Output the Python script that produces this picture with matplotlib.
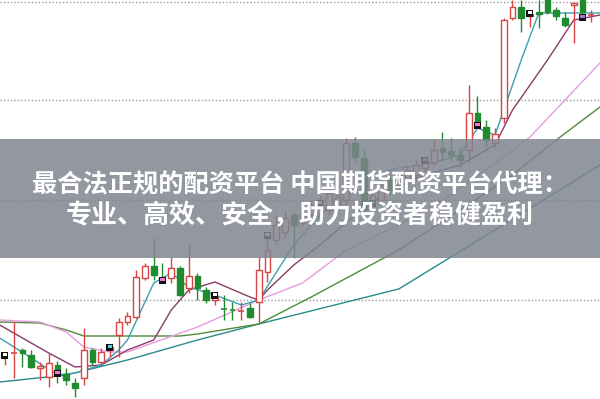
import matplotlib
matplotlib.use("Agg")
import matplotlib.pyplot as plt
from matplotlib.patches import Rectangle

# ---- data (values = price units) ----
idx = list(range(68))
# open, high, low, close  (value scale: 399 - pixel row)
opens  = [42, 46, 49, 44, 31, 22, 34, 25, 16, 21, 49, 37, 49, 64, 77, 82, 121, 133, 120, 121, 131, 111, 123, 109, 99, 91, 90, 88, 91, 97, 127,
          159, 167, 184, 176, 184, 187, 189, 191, 199, 256, 241, 194, 199, 219, 214, 219, 224, 231, 237, 251, 248, 244, 249, 286, 272, 256, 281, 381, 392, 383, 387, 399, 389, 381, 394, 399, 384]
closes = [43, 47, 46, 32, 33, 36, 29, 19, 11, 49, 37, 47, 52, 77, 83, 122, 133, 124, 118, 131, 104, 123, 111, 99, 102, 90, 89, 89, 82, 129, 149,
          174, 181, 174, 186, 194, 199, 206, 202, 256, 242, 189, 204, 214, 209, 224, 229, 234, 239, 249, 247, 244, 239, 286, 277, 259, 265, 379, 392, 381, 385, 385, 387, 383, 374, 396, 387, 384]
highs  = [46, 77, 51, 49, 37, 46, 38, 31, 21, 71, 51, 51, 55, 81, 87, 129, 136, 161, 136, 142, 133, 154, 126, 112, 106, 104, 97, 97, 96, 142, 167,
          184, 189, 187, 194, 199, 204, 212, 208, 261, 262, 249, 208, 219, 224, 229, 234, 239, 242, 259, 267, 261, 251, 314, 303, 279, 271, 381, 399, 399, 389, 399, 399, 392, 387, 397, 399, 389]
lows   = [34, 21, 32, 31, 19, 12, 16, 14, 2, 14, 34, 34, 42, 42, 74, 81, 119, 119, 116, 116, 103, 106, 99, 96, 94, 79, 79, 79, 81, 77, 117,
          154, 161, 141, 173, 179, 182, 184, 186, 194, 237, 184, 189, 194, 204, 209, 214, 219, 226, 234, 239, 239, 232, 236, 272, 252, 251, 276, 379, 367, 372, 371, 385, 379, 372, 356, 381, 377]
marker_idx   = [0, 6, 12, 18, 24, 30, 36, 42, 48, 54, 60, 66]
marker_val   = [44, 26, 52, 119, 104, 164, 196, 196, 239, 274, 386, 382]
marker_inner = ["#ffffff", "#f07ad8", "#5fd3e6", "#f07ad8", "#ffffff", "#ffffff", "#ffffff", "#5fd3e6",
                "#5fd3e6", "#f07ad8", "#ffffff", "#b070d0"]

ma5_x  = [-0.6, 3, 6, 8, 11, 13, 14, 17, 19, 21, 24, 27, 29, 33, 36, 39, 42, 45, 48, 52, 54, 56, 59, 61, 68]
ma5_y  = [61, 41, 24, 26, 34, 49, 59, 116, 126, 112, 104, 94, 99, 154, 184, 209, 224, 231, 234, 244, 271, 264, 339, 386, 386]
ma10_x = [-0.6, 5, 8, 11, 14, 17, 19, 21, 24, 28, 29, 30, 33, 36, 40, 44, 48, 52, 56, 58, 62, 65, 68]
ma10_y = [74, 46, 32, 34, 49, 59, 89, 109, 117, 102, 99, 109, 134, 154, 184, 209, 224, 234, 254, 289, 339, 379, 384]
ma20_x = [-0.6, 4, 7, 9, 12, 14, 22, 29, 34, 39, 45, 50, 55, 60, 68]
ma20_y = [79, 77, 67, 52, 47, 47, 72, 99, 116, 149, 174, 199, 229, 262, 336]
ma30_x = [-0.6, 4, 7, 9, 20, 22, 29, 35, 45, 52, 58, 63, 68]
ma30_y = [77, 76, 69, 63, 63, 65, 75, 102, 149, 189, 224, 259, 292]
ma60_x = [-0.6, 7, 14, 22, 29, 45, 56, 68]
ma60_y = [17, 24, 39, 59, 75, 110, 169, 234]

title1 = "最合法正规的配资平台 中国期货配资平台代理："
title2 = "专业、高效、安全，助力投资者稳健盈利"

UP = "#d64541"
DOWN = "#1f8a2e"

fig = plt.figure(figsize=(6.0, 3.99), dpi=100)
ax = fig.add_axes([0, 0, 1, 1])
ax.set_xlim(-0.571, 68.0)
ax.set_ylim(0, 399)
ax.axis("off")

# dotted grid lines
for gv in [397, 299, 199, 99]:
    ax.axhline(gv, color="#9a9a9a", lw=1.0, ls=(0, (1, 1.5)), zorder=1)

# moving averages
ax.plot(ma60_x, ma60_y, color="#2a8a8a", lw=1.0, zorder=2)
ax.plot(ma30_x, ma30_y, color="#4f8a3a", lw=1.0, zorder=2)
ax.plot(ma20_x, ma20_y, color="#e79be0", lw=1.0, zorder=2)
ax.plot(ma10_x, ma10_y, color="#8a3a6a", lw=1.0, zorder=2)
ax.plot(ma5_x, ma5_y, color="#3aa0b0", lw=1.0, zorder=2)

# candles
bw = 0.68
for i, o, h, l, c in zip(idx, opens, highs, lows, closes):
    up = c >= o
    col = UP if up else DOWN
    lo, hi = min(o, c), max(o, c)
    ax.vlines(i, l, lo, color=col, lw=1.0, zorder=3)
    ax.vlines(i, hi, h, color=col, lw=1.0, zorder=3)
    if hi - lo < 1.5:
        ax.hlines((o + c) / 2, i - bw / 2, i + bw / 2, color=col, lw=1.2, zorder=4)
    else:
        ax.add_patch(Rectangle((i - bw / 2, lo), bw, hi - lo,
                               facecolor="white" if up else col,
                               edgecolor=col, lw=1.0, zorder=4))

# signal markers
for mi, mv, mc in zip(marker_idx, marker_val, marker_inner):
    ax.add_patch(Rectangle((mi - 0.4, mv - 3.5), 0.8, 7, facecolor="#111111",
                           edgecolor="none", zorder=5))
    ax.add_patch(Rectangle((mi - 0.25, mv - 1.0), 0.5, 3, facecolor=mc,
                           edgecolor="none", zorder=6))

# banner
ax.add_patch(Rectangle((-1, 141), 70, 119, facecolor="#7f858f", alpha=0.85,
                       edgecolor="none", zorder=7))

fam = ["Noto Sans CJK SC", "DejaVu Sans"]
ax.text(0.5, 1 - 185 / 399, title1, transform=ax.transAxes, ha="center", va="center",
        fontsize=18.2, fontweight="heavy", color="white", family=fam, zorder=8)
ax.text(0.5, 1 - 216 / 399, title2, transform=ax.transAxes, ha="center", va="center",
        fontsize=18.7, fontweight="heavy", color="white", family=fam, zorder=8)

fig.savefig("out.png", dpi=100)
